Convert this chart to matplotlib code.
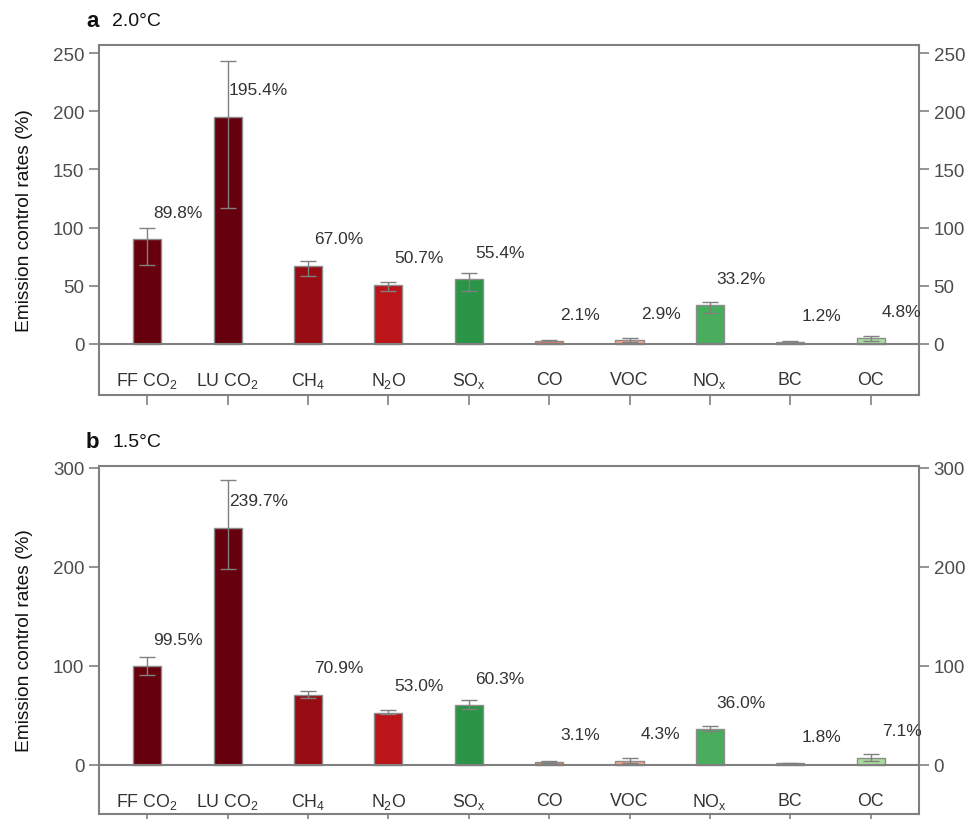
import numpy as np
import matplotlib
matplotlib.use("Agg")
import matplotlib.pyplot as plt

plt.rcParams['font.family'] = ['Liberation Sans', 'DejaVu Sans']
plt.rcParams['mathtext.fontset'] = 'custom'
plt.rcParams['mathtext.rm'] = 'Liberation Sans'

species = ["FF CO$_2$", "LU CO$_2$", "CH$_4$", "N$_2$O", "SO$_\\mathrm{x}$",
           "CO", "VOC", "NO$_\\mathrm{x}$", "BC", "OC"]
bar_colors = ["#67000d", "#67000d", "#980c13", "#bb151a", "#2a9447",
              "#f07a5c", "#f9a58a", "#48ad5c", "#e0553c", "#a9dc9f"]

# 2.0 degC
rate_20 = [89.8, 195.4, 67.0, 50.7, 55.4, 2.1, 2.9, 33.2, 1.2, 4.8]
low_20 = [68.0, 117.0, 58.0, 45.5, 45.0, 1.0, 1.5, 26.6, 0.5, 2.6]
high_20 = [100.0, 243.5, 71.3, 52.8, 61.0, 3.4, 5.0, 36.0, 2.0, 7.0]

# 1.5 degC
rate_15 = [99.5, 239.7, 70.9, 53.0, 60.3, 3.1, 4.3, 36.0, 1.8, 7.1]
low_15 = [91.0, 198.0, 67.7, 51.5, 56.6, 2.0, 2.0, 34.3, 1.0, 4.5]
high_15 = [109.0, 287.5, 74.7, 55.6, 65.7, 4.2, 7.4, 39.4, 2.5, 11.0]

fig = plt.figure(figsize=(9.78, 8.2), dpi=100)
ax_a = fig.add_axes([0.1012, 0.5171, 0.8384, 0.4268])
ax_b = fig.add_axes([0.1012, 0.0061, 0.8384, 0.4244])

gray = "#808080"
txt = "#333333"


def panel(ax, rate, low, high, ylim, yticks, letter, temp, ty):
    x = np.arange(len(species))
    rate = np.array(rate)
    yerr = [rate - np.array(low), np.array(high) - rate]
    ax.bar(x, rate, width=0.35, color=bar_colors, edgecolor="#8c8c8c",
           linewidth=1.0, zorder=2)
    ax.errorbar(x, rate, yerr=yerr, fmt="none", ecolor=gray, elinewidth=1,
                capsize=5.5, capthick=1, zorder=3)
    ax.axhline(0, color=gray, lw=1.5, zorder=4)
    for i, v in enumerate(rate):
        ax.annotate(f"{v:.1f}%", xy=(i, v), xytext=(31, 27),
                    textcoords="offset pixels", ha="center", va="center",
                    fontsize=12.5, color=txt)
        ax.annotate(species[i], xy=(i, 0), xytext=(0, -36),
                    textcoords="offset pixels", ha="center", va="center",
                    fontsize=12.8, color=txt)
    ax.set_xlim(-0.6, 9.6)
    ax.set_ylim(*ylim)
    ax.set_xticks(x)
    ax.set_xticklabels([])
    ax.set_yticks(yticks)
    ax.tick_params(axis="both", direction="out", length=7, width=1.2,
                   color=gray, labelsize=13.5, labelcolor="#4d4d4d",
                   right=True, labelright=True)
    for s in ax.spines.values():
        s.set_color(gray)
        s.set_linewidth(1.5)
    ax.set_ylabel("Emission control rates (%)", fontsize=13.8, color="#111111")
    ax.yaxis.set_label_coords(-0.080, 0.5)
    fig.text(0.088, ty, letter, fontsize=16, fontweight="bold",
             ha="left", va="center", color="#111111")
    fig.text(0.115, ty, temp, fontsize=14, ha="left", va="center",
             color="#111111")


panel(ax_a, rate_20, low_20, high_20, (-44, 257), [0, 50, 100, 150, 200, 250],
      "a", "2.0°C", 0.974)
panel(ax_b, rate_15, low_15, high_15, (-49.5, 302), [0, 100, 200, 300],
      "b", "1.5°C", 0.46)

fig.savefig("out.png", dpi=100)
